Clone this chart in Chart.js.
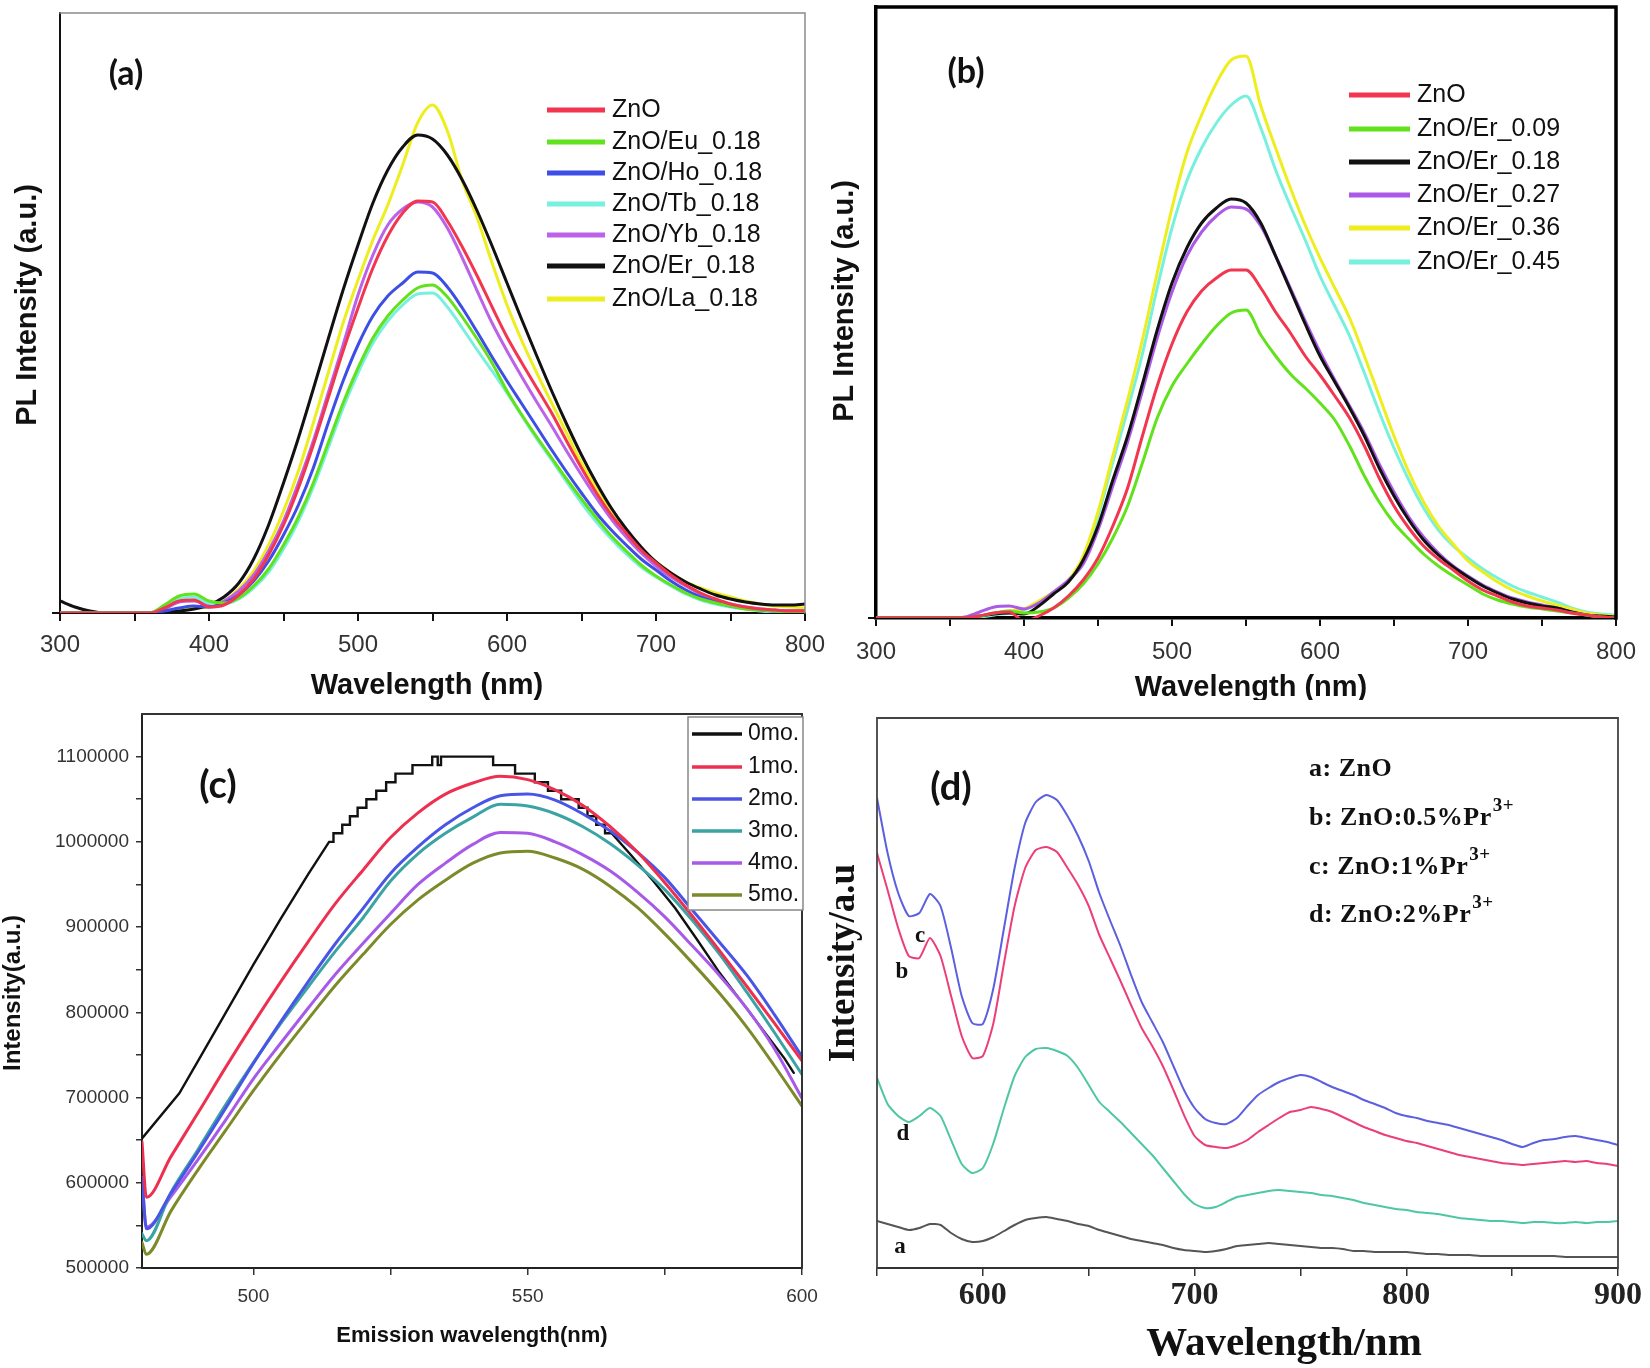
<!DOCTYPE html>
<html>
<head>
<meta charset="utf-8">
<title>PL spectra of ZnO samples</title>
<script src="https://cdn.jsdelivr.net/npm/chart.js@4.4.1/dist/chart.umd.min.js"></script>
<style>
html,body{margin:0;padding:0;background:#ffffff;}
body{position:relative;width:1650px;height:1368px;overflow:hidden;}
canvas{position:absolute;display:block;}
</style>
</head>
<body>
<canvas id="pa" width="825" height="700" style="left:0px;top:0px;width:825px;height:700px;"></canvas>
<canvas id="pb" width="825" height="700" style="left:825px;top:0px;width:825px;height:700px;"></canvas>
<canvas id="pc" width="825" height="668" style="left:0px;top:700px;width:825px;height:668px;"></canvas>
<canvas id="pd" width="825" height="668" style="left:825px;top:700px;width:825px;height:668px;"></canvas>
<script>
// ======================= DATA =======================
// Panels (a) and (b): wavelength grid (nm)
const wlAB = [300,310,320,330,340,350,360,370,380,390,400,410,420,430,440,450,460,470,480,490,500,510,520,530,540,550,560,570,580,590,600,610,620,630,640,650,660,670,680,690,700,710,720,730,740,750,760,770,780,790,800];
const ticksAB = [300,350,400,450,500,550,600,650,700,750,800];
const labelsAB = [300,400,500,600,700,800];

// Panel (a) series (PL intensity, arbitrary units)
const aLabels = ['ZnO','ZnO/Eu_0.18','ZnO/Ho_0.18','ZnO/Tb_0.18','ZnO/Yb_0.18','ZnO/Er_0.18','ZnO/La_0.18'];
const aColors = ['#f2364f','#62e21c','#3c4ee6','#78f0de','#bb62e8','#111111','#eeee1e'];
const aZnO = [0,0,0,0,0,0,0,5,12,13,6,8,18,34,58,88,125,168,215,262,305,345,377,400,412,411,392,366,337,306,276,250,225,200,172,145,120,98,80,63,50,38,28,20,14,9,6,4,3,2,2];
const aEu  = [0,0,0,0,0,0,0,8,17,19,12,10,15,27,44,68,96,130,170,210,245,275,297,313,325,328,316,296,274,250,222,198,176,155,134,114,95,77,62,48,37,28,20,14,10,7,4,3,2,1,1];
const aHo  = [0,0,0,0,0,0,0,2,5,7,6,10,18,32,52,78,108,145,190,232,268,297,317,330,341,340,326,305,281,256,232,209,186,163,141,120,100,83,68,54,43,32,23,16,11,7,5,3,2,2,2];
const aTb  = [0,0,0,0,0,0,0,6,14,16,10,9,14,25,41,64,92,126,165,205,240,270,292,308,319,320,306,285,263,242,220,197,174,153,131,110,91,74,59,46,36,27,19,13,9,6,4,2,1,1,1];
const aYb  = [0,0,0,0,0,0,0,4,11,12,8,12,22,38,62,92,130,172,220,268,318,358,388,404,411,406,385,355,322,290,262,236,211,187,162,138,115,94,76,60,47,36,27,19,13,9,6,4,3,2,2];
const aEr  = [12,6,2,0,0,0,0,1,2,4,8,16,30,54,88,130,175,224,274,323,368,410,443,466,478,474,458,433,402,367,330,293,257,222,189,158,130,105,84,66,51,40,31,24,18,14,11,9,8,8,9];
const aLa  = [0,0,0,0,0,0,0,2,4,5,6,12,24,42,68,102,142,190,240,290,333,373,408,448,490,508,482,432,395,350,308,272,240,210,180,150,124,100,81,64,51,40,31,25,20,16,12,9,7,6,5];

// Panel (b) series
const bLabels = ['ZnO','ZnO/Er_0.09','ZnO/Er_0.18','ZnO/Er_0.27','ZnO/Er_0.36','ZnO/Er_0.45'];
const bColors = ['#f2364f','#62e21c','#111111','#ab5ae8','#eeee1e','#78f0de'];
const bZnO = [0,0,0,0,0,0,0,2,5,6,-3,2,10,22,38,60,92,130,182,232,274,306,327,340,348,348,330,306,285,262,243,222,200,172,140,112,90,72,59,48,37,28,22,16,12,10,8,5,3,1,0];
const b009 = [0,0,0,0,0,0,0,2,5,7,5,6,10,20,34,54,80,112,155,200,232,254,274,292,305,308,283,262,244,230,215,198,172,142,116,95,79,64,52,42,33,24,18,14,11,9,7,5,3,1,0];
const b018 = [0,0,0,0,0,0,0,2,4,5,4,12,24,36,58,92,138,182,234,288,335,370,395,410,419,415,395,362,328,294,262,236,210,182,150,122,98,78,63,51,41,32,25,19,15,12,10,6,3,2,1];
const b027 = [0,0,0,0,0,0,1,6,11,12,9,15,26,38,54,88,132,176,227,280,326,362,386,402,411,409,392,362,330,297,266,238,212,185,154,126,101,81,65,52,42,33,26,20,16,13,10,6,3,1,0];
const b036 = [0,0,0,0,0,0,0,2,5,7,9,17,26,38,62,106,162,218,278,345,410,465,503,535,558,562,512,470,430,393,360,330,300,262,222,182,146,116,92,74,57,46,36,28,22,17,13,9,5,3,2];
const b045 = [0,0,0,0,0,0,0,1,3,5,8,16,26,37,58,102,156,208,264,330,390,437,470,495,513,522,490,448,412,378,342,312,282,245,206,170,138,110,88,72,60,49,40,32,26,21,16,10,6,4,3];

// Panel (c): emission wavelength (nm) and intensity
const cWl = [479.7,480.5,485,490,495,500,505,510,515,520,525,530,535,540,545,550,555,560,565,570,575,580,585,590,595,600];
const cLabels = ['0mo.','1mo.','2mo.','3mo.','4mo.','5mo.'];
const cColors = ['#111111','#ee3050','#4a55e6','#3aa3a3','#a75ae8','#7d8a2a'];
const c1mo = [648000,583000,631000,683000,736000,787000,836000,883000,928000,967000,1005000,1034000,1056000,1069000,1077000,1073000,1061000,1043000,1018000,988000,952000,913000,872000,830000,787000,743000];
const c2mo = [606000,546000,588000,637000,688000,740000,789000,836000,881000,922000,963000,994000,1020000,1040000,1054000,1056000,1049000,1033000,1013000,988000,958000,920000,882000,843000,797000,748000];
const c3mo = [540000,532000,589000,640000,692000,741000,787000,830000,872000,911000,954000,986000,1010000,1029000,1044000,1042000,1033000,1018000,998000,973000,944000,908000,868000,823000,776000,727000];
const c4mo = [606000,548000,584000,628000,674000,722000,764000,805000,845000,881000,916000,950000,975000,997000,1011000,1010000,1000000,985000,966000,941000,912000,878000,843000,804000,757000,699000];
const c5mo = [530000,516000,567000,616000,662000,708000,751000,792000,832000,868000,903000,932000,955000,975000,987000,989000,981000,968000,948000,923000,892000,858000,822000,782000,737000,690000];
// 0mo. (saturated detector: quantised top)
const c0HeadWl = [479.7,486.5,490,495,500,505,510];
const c0Head   = [652000,705000,744000,800000,856000,910000,962000];
const c0StepLevels = [1000000,1010000,1020000,1030000,1040000,1050000,1060000,1070000,1080000,1090000,1100000,1090000,1100000,1090000,1080000,1070000,1060000,1050000,1040000,1030000,1020000,1010000];
const c0StepEdges  = [513.8,514.6,516.2,517.6,519.0,520.6,522.4,524.2,525.9,529.0,532.6,533.6,534.2,543.7,547.7,551.3,553.7,556.1,559.3,560.9,562.5,564.1,565.3];
const c0TailWl = [568.9,572.9,576.9,580.8,584.8,588.8,592.8,596.8,598.5];
const c0Tail   = [984000,954000,922000,886000,848000,814000,780000,746000,729000];
const cXTicks = [500,525,550,575,600];
const cXLabels = [500,550,600];
const cYTicks = [500000,550000,600000,650000,700000,750000,800000,850000,900000,950000,1000000,1050000,1100000];
const cYLabels = [500000,600000,700000,800000,900000,1000000,1100000];

// Panel (d): wavelength (nm) and intensity (a.u.)
const dWl = [550,555,560,565,570,575,580,585,590,595,600,605,610,615,620,625,630,635,640,645,650,655,660,665,670,675,680,685,690,695,700,705,710,715,720,725,730,735,740,745,750,755,760,765,770,775,780,785,790,795,800,805,810,815,820,825,830,835,840,845,850,855,860,865,870,875,880,885,890,895,900];
const dColors = {a:'#555555', b:'#ec3f78', c:'#5b5fe0', d:'#4fc6a4'};
const dA = [47,44,41,38,40,44,43,35,29,26,27,31,37,43,48,50,51,49,47,44,42,38,35,32,29,27,25,23,20,18,17,16,17,19,22,23,24,25,24,23,22,21,20,20,19,17,17,16,16,16,16,15,14,14,13,13,13,12,12,12,12,12,12,12,12,11,11,11,11,11,11];
const dB = [415,378,340,312,310,330,312,272,232,210,212,245,305,362,400,418,421,416,400,383,362,333,310,287,263,240,222,202,178,153,132,123,121,120,123,128,136,143,150,156,158,161,159,156,151,146,141,137,133,130,127,125,122,119,116,113,111,109,107,105,104,103,104,105,106,107,106,107,105,104,102];
const dC = [470,415,375,352,355,374,362,320,272,245,244,280,340,400,445,466,473,468,452,432,407,375,348,322,293,266,246,226,202,178,160,149,145,144,150,162,173,180,186,190,193,191,186,181,177,173,168,164,160,155,152,150,147,145,143,140,137,134,131,128,124,121,125,128,129,131,132,130,128,126,123];
const dD = [190,164,152,146,152,160,152,128,104,95,100,125,160,192,211,219,220,217,212,200,183,166,156,146,135,124,113,100,87,74,64,60,61,66,71,73,75,77,78,77,76,75,73,72,70,68,65,63,61,59,58,56,55,54,52,50,49,48,47,47,46,45,46,46,45,45,46,45,46,46,47];
const dXTicks = [550,600,650,700,750,800,850,900];
const dXLabels = [600,700,800,900];
const dLegend = [['a: ZnO',''],['b: ZnO:0.5%Pr','3+'],['c: ZnO:1%Pr','3+'],['d: ZnO:2%Pr','3+']];

// ======================= HELPERS =======================
Chart.defaults.font.family = '"Liberation Sans", Arial, sans-serif';
const SANS = '"Liberation Sans", Arial, sans-serif';
const SERIF = '"Liberation Serif", "Times New Roman", serif';

function pts(xs, ys){ return xs.map((x,i)=>({x:x, y:ys[i]})); }
function ds(label, xs, ys, color, width, extra){
  return Object.assign({label:label, data:pts(xs,ys), borderColor:color, backgroundColor:color,
    borderWidth:width, pointRadius:0, fill:false, cubicInterpolationMode:'monotone'}, extra||{});
}
function xScale(o){
  return {type:'linear', min:o.min, max:o.max,
    afterBuildTicks:s=>{ s.ticks = o.ticks.map(v=>({value:v})); },
    afterFit:s=>{ s.height = 12; s.paddingLeft = 0; s.paddingRight = 0; s.paddingTop = 0; s.paddingBottom = 0; },
    ticks:{display:false},
    grid:{display:true, drawOnChartArea:false, drawTicks:true, tickLength:o.tl, color:o.gcolor, lineWidth:o.gw},
    border:{display:true, color:o.bcolor, width:o.bw}};
}
function yScale(o){
  return {type:'linear', min:o.min, max:o.max,
    afterBuildTicks:s=>{ s.ticks = o.ticks.map(v=>({value:v})); },
    afterFit:s=>{ s.width = 10; s.paddingLeft = 0; s.paddingRight = 0; s.paddingTop = 0; s.paddingBottom = 0; },
    ticks:{display:false},
    grid:{display:o.ticks.length>0, drawOnChartArea:false, drawTicks:true, tickLength:o.tl||0, color:o.gcolor||'#000', lineWidth:o.gw||1.5},
    border:{display:o.border!==false, color:o.bcolor||'#000', width:o.bw||2}};
}

// Decoration plugin: frame sides, tick labels (placed through the scales), legends, titles
const decor = {
  id:'decor',
  afterDraw(chart, args, opts){
    const ctx = chart.ctx, ca = chart.chartArea;
    ctx.save();
    if (opts.frame){
      const f = opts.frame;
      ctx.strokeStyle = f.color; ctx.lineWidth = f.width; ctx.lineCap = 'square';
      ctx.beginPath();
      f.sides.forEach(sd=>{
        if (sd==='top'){ ctx.moveTo(ca.left, ca.top); ctx.lineTo(ca.right, ca.top); }
        if (sd==='right'){ ctx.moveTo(ca.right, ca.top); ctx.lineTo(ca.right, ca.bottom); }
        if (sd==='bottom'){ ctx.moveTo(ca.left, ca.bottom); ctx.lineTo(ca.right, ca.bottom); }
        if (sd==='left'){ ctx.moveTo(ca.left, ca.top); ctx.lineTo(ca.left, ca.bottom); }
      });
      ctx.stroke();
    }
    (opts.tickLabels||[]).forEach(tl=>{
      const sc = chart.scales[tl.scale];
      ctx.save();
      ctx.font = tl.font; ctx.fillStyle = tl.color; ctx.textBaseline = 'middle';
      tl.values.forEach(v=>{
        if (tl.scale === 'x'){
          ctx.textAlign = 'center';
          ctx.fillText(String(v), sc.getPixelForValue(v), ca.bottom + tl.offset);
        } else {
          ctx.textAlign = 'right';
          ctx.fillText(String(v), ca.left - tl.offset, sc.getPixelForValue(v));
        }
      });
      ctx.restore();
    });
    (opts.items||[]).forEach(it=>{
      ctx.save();
      if (it.type==='rect'){
        ctx.fillStyle = it.fill || '#fff'; ctx.fillRect(it.x, it.y, it.w, it.h);
        ctx.strokeStyle = it.color; ctx.lineWidth = it.lw; ctx.strokeRect(it.x, it.y, it.w, it.h);
      } else if (it.type==='line'){
        ctx.strokeStyle = it.color; ctx.lineWidth = it.lw; ctx.lineCap = 'butt';
        ctx.beginPath(); ctx.moveTo(it.x1, it.y); ctx.lineTo(it.x2, it.y); ctx.stroke();
      } else {
        ctx.translate(it.x, it.y);
        if (it.rot) ctx.rotate(it.rot);
        ctx.font = it.font; ctx.fillStyle = it.color || '#111';
        ctx.textAlign = it.align || 'center'; ctx.textBaseline = 'middle';
        if (it.ls) { try { ctx.letterSpacing = it.ls; } catch(e){} }
        ctx.fillText(it.t, 0, 0);
        if (it.sup){
          const w = ctx.measureText(it.t).width;
          ctx.font = it.supFont;
          ctx.textAlign = 'left';
          ctx.fillText(it.sup, w + 1, it.supDy);
        }
      }
      ctx.restore();
    });
    ctx.restore();
  }
};

function baseOptions(pad, scales, decorOpts){
  return {responsive:false, animation:false, devicePixelRatio:1,
    layout:{autoPadding:false, padding:pad},
    plugins:{legend:{display:false}, tooltip:{enabled:false}, decor:decorOpts},
    elements:{point:{radius:0}, line:{borderJoinStyle:'round', borderCapStyle:'round'}},
    scales:scales};
}

function legendItems(labels, colors, x1, x2, xt, rows, font, lw){
  const items = [];
  labels.forEach((l,i)=>{
    items.push({type:'line', x1:x1, x2:x2, y:rows[i], color:colors[i], lw:lw});
    items.push({t:l, x:xt, y:rows[i], font:font, align:'left', color:'#111'});
  });
  return items;
}

// ======================= PANEL (a) =======================
(function(){
  const series = [aZnO, aEu, aHo, aTb, aYb, aEr, aLa];
  const datasets = series.map((s,i)=>ds(aLabels[i], wlAB, s, aColors[i], 3));
  const items = [
    {t:'(a)', x:126, y:74, font:'bold 34px Lato, sans-serif', color:'#111'},
    {t:'Wavelength (nm)', x:427, y:686, font:'bold 29px '+SANS, color:'#111'},
    {t:'PL Intensity (a.u.)', x:28, y:305, rot:-Math.PI/2, font:'bold 29px '+SANS, color:'#111'}
  ].concat(legendItems(aLabels, aColors, 547, 605, 612, [110,142,173,204,235,266,299], '25px '+SANS, 5));
  new Chart(document.getElementById('pa'), {type:'line', data:{datasets:datasets},
    options: baseOptions({left:50, right:20, top:13, bottom:75}, {
      x: xScale({min:300, max:800, ticks:ticksAB, tl:8, gcolor:'#111', gw:2, bcolor:'#111', bw:2}),
      y: yScale({min:0, max:600, ticks:[0], tl:8, gcolor:'#111', gw:2, bcolor:'#111', bw:2})
    }, {frame:{color:'#8a8a8a', width:1.5, sides:['top','right']},
        tickLabels:[{scale:'x', values:labelsAB, offset:32, font:'24px '+SANS, color:'#333'}],
        items:items}),
    plugins:[decor]});
})();

// ======================= PANEL (b) =======================
(function(){
  const series = [bZnO, b009, b018, b027, b036, b045];
  const datasets = series.map((s,i)=>ds(bLabels[i], wlAB, s, bColors[i], 3));
  const items = [
    {t:'(b)', x:141, y:72, font:'bold 34px Lato, sans-serif', color:'#111'},
    {t:'Wavelength (nm)', x:426, y:688, font:'bold 29px '+SANS, color:'#111'},
    {t:'PL Intensity (a.u.)', x:20, y:301, rot:-Math.PI/2, font:'bold 29px '+SANS, color:'#111'}
  ].concat(legendItems(bLabels, bColors, 524, 585, 592, [95,129,162,195,228,262], '25px '+SANS, 5));
  new Chart(document.getElementById('pb'), {type:'line', data:{datasets:datasets},
    options: baseOptions({left:41, right:34, top:7, bottom:70}, {
      x: xScale({min:300, max:800, ticks:ticksAB, tl:8, gcolor:'#111', gw:2, bcolor:'#000', bw:3.5}),
      y: yScale({min:0, max:611, ticks:[0], tl:8, gcolor:'#111', gw:2, bcolor:'#000', bw:3.5})
    }, {frame:{color:'#000', width:3.5, sides:['top','right']},
        tickLabels:[{scale:'x', values:labelsAB, offset:34, font:'24px '+SANS, color:'#333'}],
        items:items}),
    plugins:[decor]});
})();

// ======================= PANEL (c) =======================
(function(){
  // 0mo. curve: smooth rise, quantised plateau, smooth fall
  const c0x = c0HeadWl.slice(), c0y = c0Head.slice();
  c0StepLevels.forEach((lv,i)=>{ c0x.push(c0StepEdges[i], c0StepEdges[i+1]); c0y.push(lv, lv); });
  c0TailWl.forEach((x,i)=>{ c0x.push(x); c0y.push(c0Tail[i]); });
  const datasets = [
    ds(cLabels[1], cWl, c1mo, cColors[1], 3),
    ds(cLabels[2], cWl, c2mo, cColors[2], 3),
    ds(cLabels[3], cWl, c3mo, cColors[3], 3),
    ds(cLabels[4], cWl, c4mo, cColors[4], 3),
    ds(cLabels[5], cWl, c5mo, cColors[5], 3),
    ds(cLabels[0], c0x, c0y, cColors[0], 2.4, {cubicInterpolationMode:'default', tension:0, borderJoinStyle:'miter'})
  ];
  const items = [
    {t:'(c)', x:218, y:86, font:'bold 38px Lato, sans-serif', color:'#111'},
    {t:'Emission wavelength(nm)', x:472, y:636, font:'bold 22px '+SANS, color:'#111'},
    {t:'Intensity(a.u.)', x:13, y:293, rot:-Math.PI/2, font:'bold 24px '+SANS, color:'#111'},
    {type:'rect', x:688, y:17, w:115, h:193, color:'#888', lw:1.5, fill:'#fff'}
  ].concat(legendItems(cLabels, cColors, 692, 742, 748, [34,67,99,131,163,195], '23px '+SANS, 3.5));
  new Chart(document.getElementById('pc'), {type:'line', data:{datasets:datasets},
    options: baseOptions({left:132, right:23, top:14, bottom:88}, {
      x: xScale({min:479.7, max:600, ticks:cXTicks, tl:7, gcolor:'#333', gw:1.5, bcolor:'#222', bw:2}),
      y: yScale({min:500000, max:1150000, ticks:cYTicks, tl:6, gcolor:'#333', gw:1.5, bcolor:'#222', bw:2})
    }, {frame:{color:'#333', width:2, sides:['top','right']},
        tickLabels:[
          {scale:'x', values:cXLabels, offset:29, font:'19px '+SANS, color:'#333'},
          {scale:'y', values:cYLabels, offset:13, font:'19px '+SANS, color:'#333'}
        ],
        items:items}),
    plugins:[decor]});
})();

// ======================= PANEL (d) =======================
(function(){
  const datasets = [
    ds('c: ZnO:1%Pr3+', dWl, dC, dColors.c, 2, {cubicInterpolationMode:'default', tension:0.2}),
    ds('b: ZnO:0.5%Pr3+', dWl, dB, dColors.b, 2, {cubicInterpolationMode:'default', tension:0.2}),
    ds('d: ZnO:2%Pr3+', dWl, dD, dColors.d, 2, {cubicInterpolationMode:'default', tension:0.2}),
    ds('a: ZnO', dWl, dA, dColors.a, 2, {cubicInterpolationMode:'default', tension:0.2})
  ];
  const rows = [69,118,167,215];
  const items = [
    {t:'(d)', x:126, y:88, font:'bold 38px Lato, sans-serif', color:'#111'},
    {t:'Wavelength/nm', x:459, y:644, font:'bold 41px '+SERIF, color:'#111'},
    {t:'Intensity/a.u', x:19, y:263, rot:-Math.PI/2, font:'bold 37px '+SERIF, color:'#111'},
    {t:'c', x:95, y:236, font:'bold 23px '+SERIF, color:'#111'},
    {t:'b', x:77, y:272, font:'bold 23px '+SERIF, color:'#111'},
    {t:'d', x:78, y:434, font:'bold 23px '+SERIF, color:'#111'},
    {t:'a', x:75, y:547, font:'bold 23px '+SERIF, color:'#111'}
  ];
  dLegend.forEach((l,i)=>{
    items.push({t:l[0], x:484, y:rows[i], font:'bold 26px '+SERIF, align:'left', color:'#111', ls:'0.5px',
      sup:l[1] || null, supFont:'bold 19px '+SERIF, supDy:-12});
  });
  new Chart(document.getElementById('pd'), {type:'line', data:{datasets:datasets},
    options: baseOptions({left:42, right:32, top:18, bottom:88}, {
      x: xScale({min:550, max:900, ticks:dXTicks, tl:8, gcolor:'#333', gw:1.5, bcolor:'#333', bw:2}),
      y: yScale({min:0, max:550, ticks:[], border:false})
    }, {frame:{color:'#444', width:1.8, sides:['top','right','left']},
        tickLabels:[{scale:'x', values:dXLabels, offset:28, font:'bold 32px '+SERIF, color:'#222'}],
        items:items}),
    plugins:[decor]});
})();
</script>
</body>
</html>
